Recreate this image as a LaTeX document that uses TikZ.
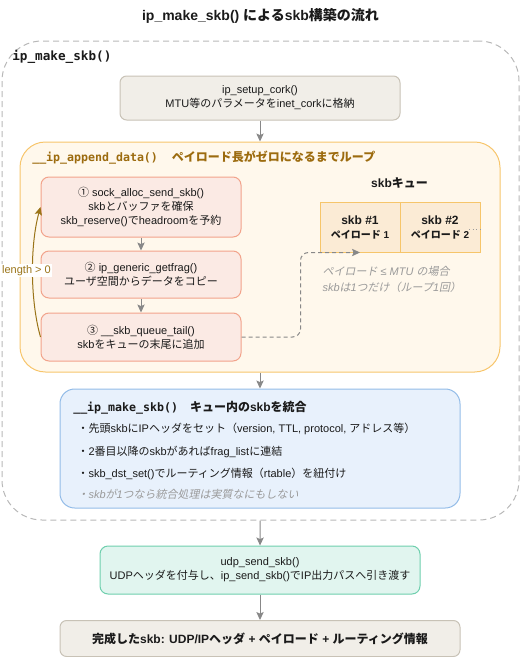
\documentclass[tikz,border=0pt]{standalone}
\usepackage{fontspec}
\setmainfont{Liberation Sans}
\newfontfamily\jafont{Noto Sans CJK JP}[AutoFakeSlant=0.2]
\newfontfamily\monofont{DejaVu Sans Mono}
\usetikzlibrary{arrows.meta}
\XeTeXinterchartokenstate=1
\newXeTeXintercharclass\jaclass
\newcount\jcnt
\def\setjarange#1#2{\jcnt=#1\relax\loop\XeTeXcharclass\jcnt=\jaclass\relax\ifnum\jcnt<#2\relax\advance\jcnt by 1\relax\repeat}
\setjarange{"3000}{"30FF}
\setjarange{"4E00}{"9FFF}
\setjarange{"FF00}{"FFEF}
\setjarange{"2460}{"24FF}
\XeTeXinterchartoks 0 \jaclass = {\begingroup\jafont}
\XeTeXinterchartoks 4095 \jaclass = {\begingroup\jafont}
\XeTeXinterchartoks \jaclass 0 = {\endgroup}
\XeTeXinterchartoks \jaclass 4095 = {\endgroup}

\definecolor{corkfill}{HTML}{F1EEE8}
\definecolor{corkdraw}{HTML}{C8C2B6}
\definecolor{orfill}{HTML}{FFF8EC}
\definecolor{ordraw}{HTML}{F7C56B}
\definecolor{orlabel}{HTML}{9C6B0E}
\definecolor{stepfill}{HTML}{FBEAE4}
\definecolor{stepdraw}{HTML}{F2A38B}
\definecolor{loopcol}{HTML}{9A7418}
\definecolor{cellfill}{HTML}{FBEBD5}
\definecolor{celldraw}{HTML}{F6C56A}
\definecolor{arrgray}{HTML}{888888}
\definecolor{notegray}{HTML}{9A9A9A}
\definecolor{bluefill}{HTML}{E8F1FC}
\definecolor{bluedraw}{HTML}{93BCE8}
\definecolor{greenfill}{HTML}{E1F5EF}
\definecolor{greendraw}{HTML}{6ECFAD}
\definecolor{outerdraw}{HTML}{B8B8B8}
\definecolor{txt}{HTML}{1A1A1A}

\tikzset{
  base/.style={font=\fontsize{8.25}{10.4}\selectfont, align=center, inner sep=0pt, text=txt, line width=0.75pt},
  outerbox/.style={base, draw=outerdraw, dash pattern=on 4.5pt off 3pt, rounded corners=30pt},
  corkbox/.style={base, draw=corkdraw, fill=corkfill, rounded corners=5pt},
  orbox/.style={base, draw=ordraw, fill=orfill, rounded corners=19pt},
  stepbox/.style={base, draw=stepdraw, fill=stepfill, rounded corners=6pt, minimum width=150pt},
  cellbox/.style={base, draw=celldraw, fill=cellfill, minimum width=60pt, minimum height=37.5pt,
    font=\bfseries\fontsize{9}{10.5}\selectfont},
  bluebox/.style={base, draw=bluedraw, fill=bluefill, rounded corners=11pt},
  greenbox/.style={base, draw=greendraw, fill=greenfill, rounded corners=6pt},
  arr/.style={draw=arrgray, line width=0.75pt, -{Stealth[length=6pt,width=5.5pt,inset=1.2pt]}},
  looparr/.style={draw=loopcol, line width=0.75pt, -{Stealth[length=6pt,width=5.5pt,inset=1.2pt]}},
  dashconn/.style={draw=arrgray, line width=0.75pt, dash pattern=on 3pt off 2.25pt, rounded corners=6pt,
    -{Stealth[length=6pt,width=5.5pt,inset=1.2pt]}},
  bullet/.style={base, anchor=west, align=left},
  lbl/.style={inner sep=0pt, anchor=west},
}

\begin{document}
\begin{tikzpicture}[x=0.75pt, y=-0.75pt]
\useasboundingbox (0,0) rectangle (521,657);

% title
\node[lbl, anchor=center, font=\bfseries\fontsize{10.5}{12}\selectfont, text=txt] (title) at (260.5,16) {ip\_make\_skb() によるskb構築の流れ};

% outer dashed container
\node[outerbox, minimum width=387.75pt, minimum height=359.25pt] (outer) at (260.5,280.5) {};
\node[lbl, font=\monofont\bfseries\fontsize{9.5}{11}\selectfont, text=txt] (outerlbl) at (12,57) {ip\_make\_skb()};

% ip_setup_cork
\node[corkbox, minimum width=210pt, minimum height=33pt] (cork) at (260,98) {ip\_setup\_cork()\\MTU等のパラメータをinet\_corkに格納};

% orange container
\node[orbox, minimum width=360pt, minimum height=172.5pt] (append) at (260,257) {};
\node[lbl, text=orlabel] (appendlbl) at (32,157.5) {{\monofont\bfseries\fontsize{8.7}{10}\selectfont \_\_ip\_append\_data()}\hspace{10.5pt}{\bfseries\fontsize{9}{10}\selectfont ペイロード長がゼロになるまでループ}};

% steps
\node[stepbox, minimum height=45pt] (s1) at (141,207) {① sock\_alloc\_send\_skb()\\skbとバッファを確保\\skb\_reserve()でheadroomを予約};
\node[stepbox, minimum height=35.25pt] (s2) at (141,274.5) {② ip\_generic\_getfrag()\\ユーザ空間からデータをコピー};
\node[stepbox, minimum height=36pt] (s3) at (141,337) {③ \_\_skb\_queue\_tail()\\skbをキューの末尾に追加};

\draw[arr] (s1) -- (s2);
\draw[arr] (s2) -- (s3);

% loop arrow
\draw[looparr] (s3.west) .. controls (30,300) and (30,245) .. (s1.west);
\node[base, fill=white, inner sep=1pt, text=loopcol] (looplbl) at (26.5,270.5) {length > 0};

% skb queue
\node[lbl, anchor=center, font=\bfseries\fontsize{9}{10.5}\selectfont, text=txt] (qlbl) at (399.5,183) {skbキュー};
\node[cellbox] (c1) at (360,227) {skb \#1\\{\fontsize{7.5}{9}\selectfont ペイロード 1}};
\node[cellbox] (c2) at (440,227) {skb \#2\\{\fontsize{7.5}{9}\selectfont ペイロード 2}};
\coordinate (dotA) at (469,229);
\coordinate (dotB) at (482,229);
\draw[notegray, line width=0.75pt, dotted] (dotA) -- (dotB);

% dashed connector
\coordinate (bend) at (300.5,337);
\draw[dashconn] (s3.east) -- (bend) |- (c1.south);

% note
\node[base, anchor=west, align=left, text=notegray, font=\itshape\fontsize{8.25}{12}\selectfont] (note) at (322,279.7) {ペイロード ≤ MTU の場合\\skbは1つだけ（ループ1回）};

\draw[arr] (cork) -- (append);

% blue box
\node[bluebox, minimum width=300pt, minimum height=89.25pt] (merge) at (260,448.5) {};
\node[lbl, text=txt] (mergelbl) at (73,408) {{\monofont\bfseries\fontsize{8.7}{10}\selectfont \_\_ip\_make\_skb()}\hspace{9pt}{\bfseries\fontsize{9}{10}\selectfont キュー内のskbを統合}};
\node[bullet] (b1) at (77,429) {・先頭skbにIPヘッダをセット（version, TTL, protocol, アドレス等）};
\node[bullet] (b2) at (77,452) {・2番目以降のskbがあればfrag\_listに連結};
\node[bullet] (b3) at (77,474) {・skb\_dst\_set()でルーティング情報（rtable）を紐付け};
\node[bullet, text=notegray, font=\itshape\fontsize{8.25}{10.4}\selectfont] (b4) at (77,494) {・skbが1つなら統合処理は実質なにもしない};

\draw[arr] (append) -- (merge);

% udp_send_skb
\node[greenbox, minimum width=240pt, minimum height=36pt] (udp) at (260,570) {udp\_send\_skb()\\UDPヘッダを付与し、ip\_send\_skb()でIP出力パスへ引き渡す};
\draw[arr] (outer) -- (udp);

% final
\node[corkbox, minimum width=300pt, minimum height=27pt, font=\bfseries\fontsize{9}{10.5}\selectfont] (final) at (260,638.5) {完成したskb: UDP/IPヘッダ + ペイロード + ルーティング情報};
\draw[arr] (udp) -- (final);
\end{tikzpicture}
\end{document}
